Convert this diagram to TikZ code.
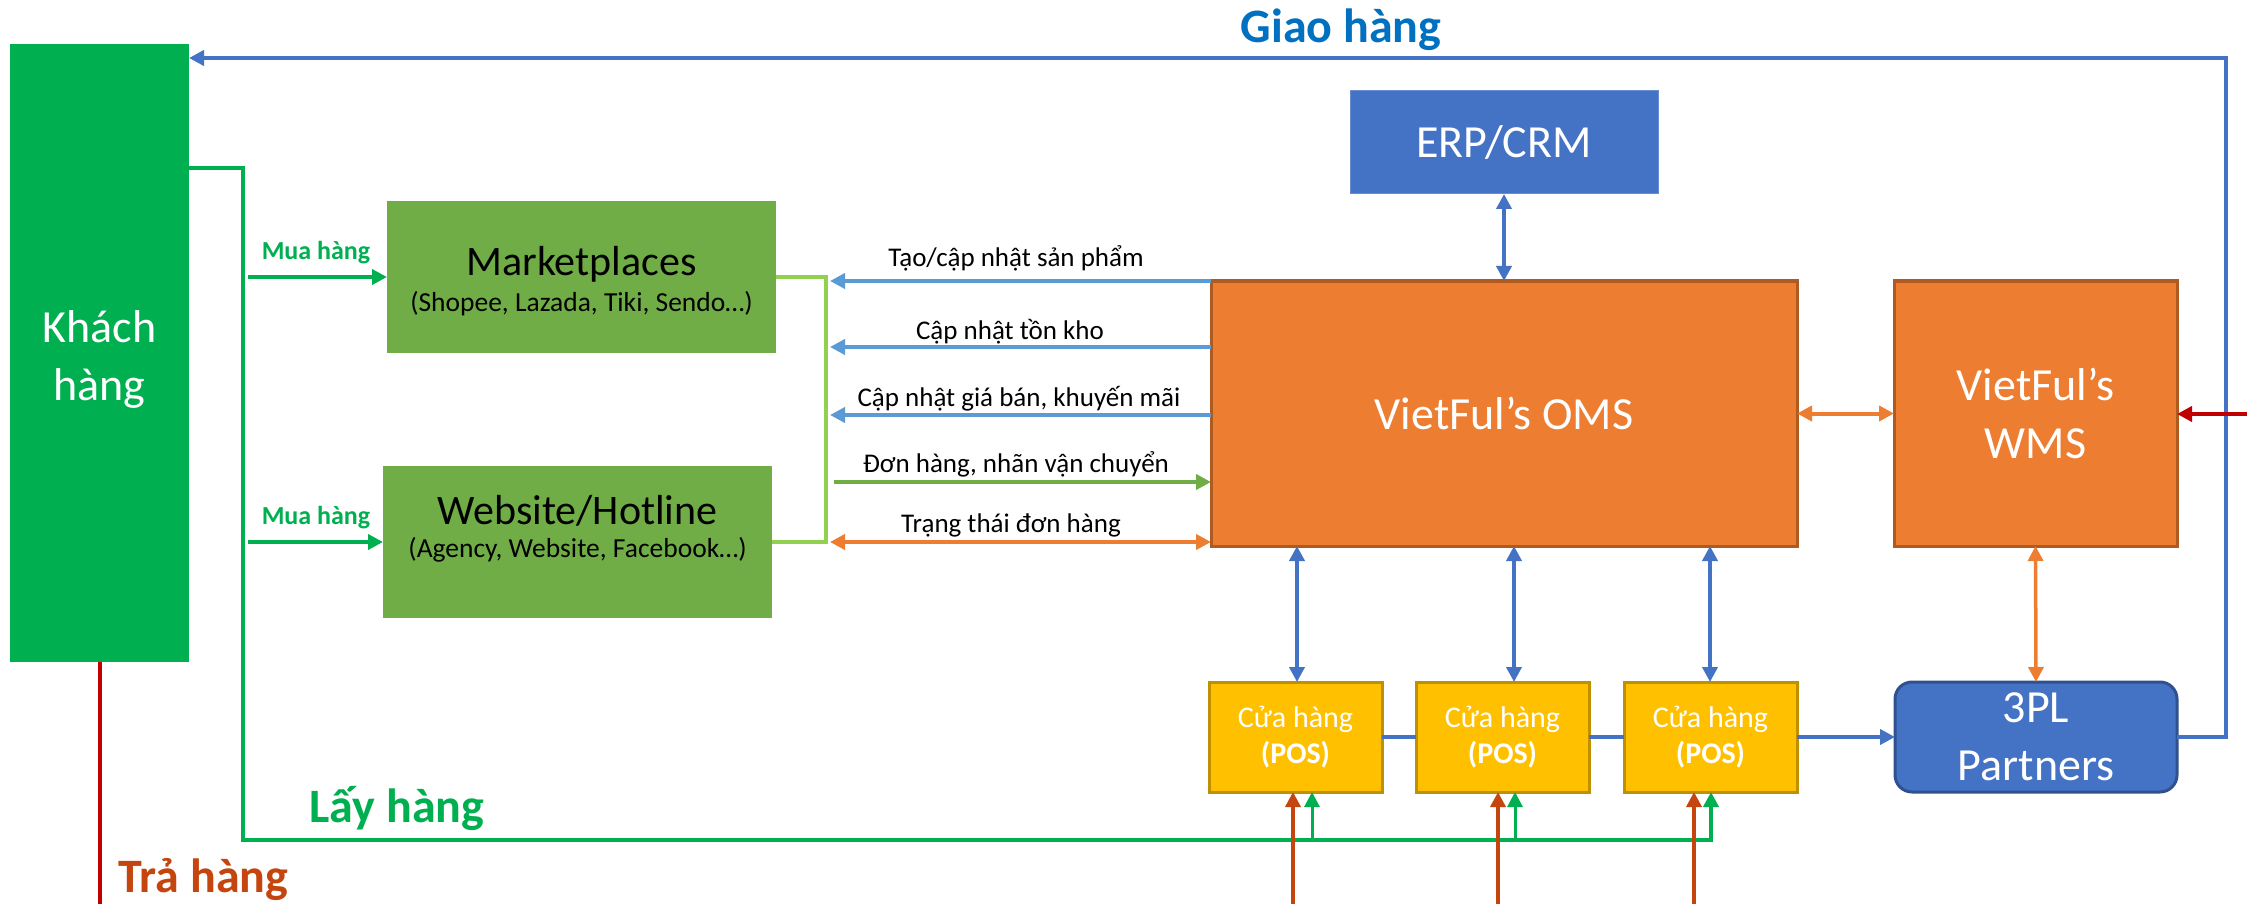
\documentclass[tikz,border=0pt]{standalone}
\usepackage{fontspec}
\setmainfont{Carlito}
\usetikzlibrary{arrows.meta}
\definecolor{kgreen}{HTML}{00B050}
\definecolor{mgreen}{HTML}{70AD47}
\definecolor{lgreen}{HTML}{92D050}
\definecolor{mblue}{HTML}{4472C4}
\definecolor{dblue}{HTML}{2F528F}
\definecolor{lblue}{HTML}{5B9BD5}
\definecolor{tblue}{HTML}{0070C0}
\definecolor{morange}{HTML}{ED7D31}
\definecolor{dorange}{HTML}{AE5A21}
\definecolor{gold}{HTML}{FFC000}
\definecolor{dgold}{HTML}{BF9000}
\definecolor{mred}{HTML}{C00000}
\definecolor{brn}{HTML}{C4450E}
\begin{document}
\begin{tikzpicture}[x=1pt,y=-1pt,
  box/.style={inner sep=0pt, outer sep=0pt, align=center, text=white},
  big/.style={font=\fontsize{46}{58}\selectfont},
  lab/.style={font=\fontsize{27}{32}\selectfont, anchor=base, inner sep=0pt},
  sub/.style={anchor=base, inner sep=0pt, font=\fontsize{27.5}{33}\selectfont},
  ttl/.style={anchor=base, inner sep=0pt, font=\fontsize{42}{50}\selectfont},
  blab/.style={anchor=base, inner sep=0pt, font=\bfseries\fontsize{48}{57}\selectfont},
  mua/.style={anchor=base, inner sep=0pt, font=\bfseries\fontsize{26}{31}\selectfont, text=kgreen},
  posbox/.style={box, fill=gold, draw=dgold, line width=3pt, minimum width=173pt, minimum height=110pt, font=\fontsize{30}{36}\selectfont},
  tipA/.style={-{Triangle[length=15pt,width=15pt]}},
  tipB/.style={{Triangle[length=15pt,width=15pt]}-{Triangle[length=15pt,width=15pt]}},
  bline/.style={draw=mblue, line width=4pt},
  vline/.style={draw=mblue, line width=4pt},
  gline/.style={draw=kgreen, line width=4pt},
  rline/.style={draw=brn, line width=3.5pt}
]
\fill[white] (0,0) rectangle (2247,904);
\useasboundingbox (0,0) rectangle (2247,904);

% boxes
\node[box, fill=kgreen, minimum width=179pt, minimum height=618pt] (kh) at (99.5,353) {};
\node[box, big] (kht) at (99.5,359) {Khách\\hàng};
\node[box, fill=mgreen, minimum width=389pt, minimum height=152pt] (mk) at (581.5,277) {};
\node[ttl] (mkt) at (581.5,276) {Marketplaces};
\node[sub] (mks) at (581.5,312) {(Shopee, Lazada, Tiki, Sendo…)};
\node[box, fill=mgreen, minimum width=389pt, minimum height=152pt] (web) at (577.5,542) {};
\node[ttl] (webt) at (577.5,524) {Website/Hotline};
\node[sub] (webs) at (577.5,557) {(Agency, Website, Facebook…)};

\node[box, fill=morange, draw=dorange, line width=3pt, minimum width=586pt, minimum height=265pt, big] (oms) at (1504,413.5) {VietFul’s OMS};
\node[box, fill=morange, draw=dorange, line width=3pt, minimum width=283pt, minimum height=265pt, big] (wms) at (2035.5,413.5) {VietFul’s\\WMS};
\node[box, fill=mblue, draw=mblue!80!white, line width=1pt, minimum width=308pt, minimum height=103pt, big] (erp) at (1504,142.5) {ERP/CRM};
\node[posbox] (pos1) at (1295.5,737) {Cửa hàng\\\textbf{(POS)}};
\node[posbox] (pos2) at (1502.5,737) {Cửa hàng\\\textbf{(POS)}};
\node[posbox] (pos3) at (1710.5,737) {Cửa hàng\\\textbf{(POS)}};
\node[box, fill=mblue, draw=dblue, line width=3pt, rounded corners=17pt, minimum width=282pt, minimum height=110pt, big] (tpl) at (2036,737) {3PL\\Partners};

% texts
\node[blab, text=tblue] (gh) at (1341,43) {Giao hàng};
\node[blab, text=kgreen] (lh) at (397,822) {Lấy hàng};
\node[blab, text=brn] (th) at (203.5,892) {Trả hàng};
\node[mua] (mh1) at (316,259) {Mua hàng};
\node[mua] (mh2) at (316,524) {Mua hàng};
\node[lab] (l1) at (1016,266) {Tạo/cập nhật sản phẩm};
\node[lab] (l2) at (1010,339) {Cập nhật tồn kho};
\node[lab] (l3) at (1019,406) {Cập nhật giá bán, khuyến mãi};
\node[lab] (l4) at (1016,472) {Đơn hàng, nhãn vận chuyển};
\node[lab] (l5) at (1011,532) {Trạng thái đơn hàng};

% coordinates
\coordinate (gR) at (2226,58);
\coordinate (gA) at (243,168);
\coordinate (gB) at (243,840);
\coordinate (m1) at (248,277);
\coordinate (m2) at (248,542);
\coordinate (brT) at (826,277);
\coordinate (brB) at (826,542);
\coordinate (a1) at (830,281);
\coordinate (a2) at (830,347);
\coordinate (a3) at (830,415);
\coordinate (a4) at (834,482);
\coordinate (a5) at (830,542);
\coordinate (v1) at (1297,0);
\coordinate (v2) at (1514,0);
\coordinate (v3) at (1710,0);
\coordinate (g1) at (1312,0);
\coordinate (g2) at (1515,0);
\coordinate (g3) at (1711,0);
\coordinate (r1) at (1293,904);
\coordinate (r2) at (1498,904);
\coordinate (r3) at (1694,904);
\coordinate (rw) at (2247,414);
\coordinate (kb) at (100,904);

% Giao hang loop
\draw[bline, tipA] (tpl.east) -| (gR) -- (kh.east |- gR);
% Lay hang
\draw[gline, tipA] (kh.east |- gA) -- (gA) -- (gB) -| (g3 |- pos3.south);
\draw[kgreen, line width=3pt, tipA] (g1 |- gB) -- (g1 |- pos1.south);
\draw[kgreen, line width=3pt, tipA] (g2 |- gB) -- (g2 |- pos2.south);
% Tra hang
\draw[mred, line width=3.5pt] (kb |- kh.south) -- (kb);
\draw[rline, tipA] (r1) -- (r1 |- pos1.south);
\draw[rline, tipA] (r2) -- (r2 |- pos2.south);
\draw[rline, tipA] (r3) -- (r3 |- pos3.south);
\draw[mred, line width=4pt, tipA] (rw) -- (wms.east |- rw);
% Mua hang
\draw[gline, tipA] (m1) -- (mk.west |- m1);
\draw[gline, tipA] (m2) -- (web.west |- m2);
% bracket
\draw[lgreen, line width=4pt] (mk.east |- brT) -- (brT) -- (brB) -- (web.east |- brB);
% OMS channel arrows
\draw[lblue, line width=4pt, tipA] (oms.west |- a1) -- (a1);
\draw[lblue, line width=4pt, tipA] (oms.west |- a2) -- (a2);
\draw[lblue, line width=4pt, tipA] (oms.west |- a3) -- (a3);
\draw[mgreen, line width=4pt, tipA] (a4) -- (oms.west |- a4);
\draw[morange, line width=4pt, tipB] (a5) -- (oms.west |- a5);
% system links
\draw[vline, tipB] (erp.south) -- (oms.north);
\draw[morange, line width=4pt, tipB] (oms.east) -- (wms.west);
\draw[morange, line width=3.5pt, tipB] (wms.south) -- (tpl.north);
\draw[vline, tipB] (v1 |- oms.south) -- (v1 |- pos1.north);
\draw[vline, tipB] (v2 |- oms.south) -- (v2 |- pos2.north);
\draw[vline, tipB] (v3 |- oms.south) -- (v3 |- pos3.north);
\draw[bline] (pos1.east) -- (pos2.west);
\draw[bline] (pos2.east) -- (pos3.west);
\draw[bline, tipA] (pos3.east) -- (tpl.west);
\end{tikzpicture}
\end{document}
